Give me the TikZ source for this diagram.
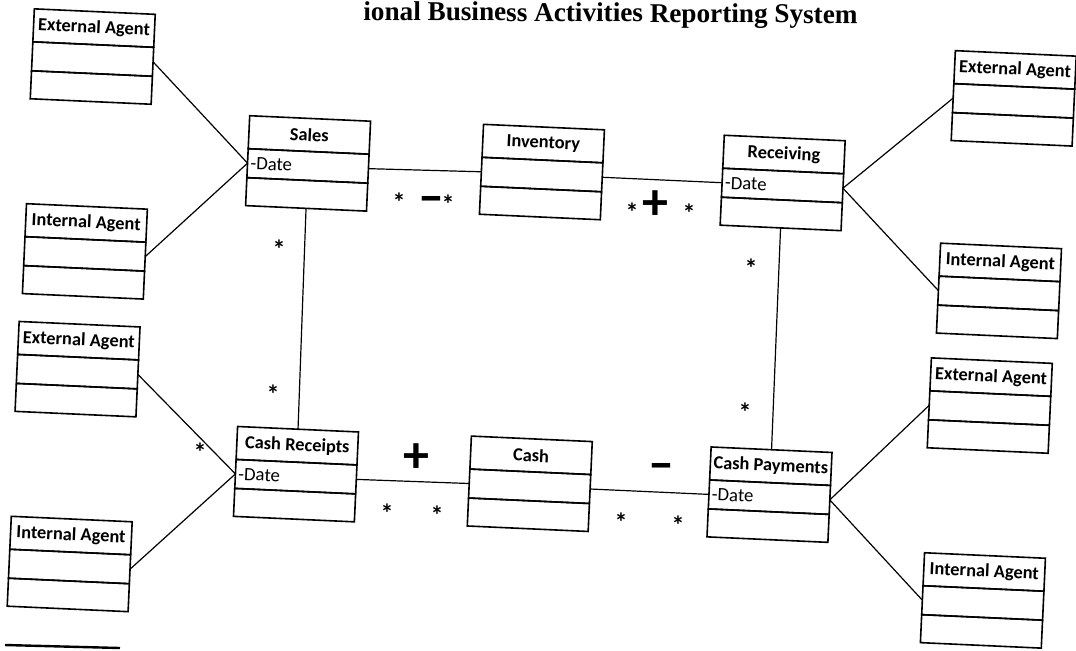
\documentclass[tikz,border=0pt]{standalone}
\usepackage{fontspec}
\setmainfont{Carlito}
\newfontfamily\titlefont{Liberation Serif}
\usetikzlibrary{positioning}

\tikzset{
  boxhead/.style={draw, line width=0.8pt, minimum width=60.5pt, minimum height=16.5pt,
    inner sep=0pt, outer sep=0pt, font=\fontsize{9.2}{10}\selectfont\bfseries},
  boxrow/.style={draw, line width=0.8pt, minimum width=60.5pt, minimum height=14.5pt,
    inner xsep=1.5pt, inner ysep=0pt, outer sep=0pt, text width=57.5pt, align=left,
    font=\fontsize{9.4}{10}\selectfont},
  link/.style={line width=0.6pt},
  mult/.style={inner sep=0pt, yshift=-2.5pt, font=\fontsize{13}{13}\selectfont\bfseries},
  sign/.style={inner sep=0pt, font=\fontsize{26}{26}\selectfont\bfseries},
}

% class box: name, position of the header, title, attribute
\newcommand\umlclass[4]{%
  \node[boxhead] (#1) at (#2) {#3};
  \node[boxrow, below=0pt of #1] (#1-a) {#4};
  \node[boxrow, below=0pt of #1-a, minimum height=14pt] (#1-b) {};
}

\begin{document}
\begin{tikzpicture}[x=0.5pt, y=0.5pt]
  \useasboundingbox (0,0) rectangle (1076,-650);
  \clip (0,0) rectangle (1076,-650);

  \node[anchor=base west, rotate=-0.4, inner sep=0pt,
    font=\titlefont\fontsize{13.6}{14}\selectfont\bfseries] (title) at (363,-20)
    {ional Business Activities Reporting System};

  \begin{scope}[rotate around={-2.6:(538,-325)}, transform shape]
    % agents
    \umlclass{extTL}{81,-48.5}{External Agent}{}
    \umlclass{intL1}{82,-243.5}{Internal Agent}{}
    \umlclass{extL2}{80,-361.5}{External Agent}{}
    \umlclass{intL3}{81,-556.5}{Internal Agent}{}
    \umlclass{extTR}{1003,-48.5}{External Agent}{}
    \umlclass{intR1}{997,-241.5}{Internal Agent}{}
    \umlclass{extR2}{993,-356.5}{External Agent}{}
    \umlclass{intR3}{995,-551.5}{Internal Agent}{}
    % events and resources
    \umlclass{sales}{301,-145.5}{Sales}{-Date}
    \umlclass{inventory}{535,-143.5}{Inventory}{}
    \umlclass{receiving}{776,-143.5}{Receiving}{-Date}
    \umlclass{cashrec}{303,-456.5}{Cash Receipts}{-Date}
    \umlclass{cash}{537,-455.5}{Cash}{}
    \umlclass{cashpay}{777,-455.5}{Cash Payments}{-Date}

    \draw[link] (extTL-a.east) -- (sales-a.west);
    \draw[link] (intL1-a.east) -- (sales-a.west);
    \draw[link] (extL2-a.east) -- (cashrec-a.west);
    \draw[link] (intL3-a.east) -- (cashrec-a.west);
    \draw[link] (receiving-a.east) -- (extTR-a.west);
    \draw[link] (receiving-a.east) -- (intR1-a.west);
    \draw[link] (cashpay-a.east) -- (extR2-a.west);
    \draw[link] (cashpay-a.east) -- (intR3-a.west);
    \draw[link] (sales-a.east) -- (inventory-a.west);
    \draw[link] (inventory-a.east) -- (receiving-a.west);
    \draw[link] (cashrec-a.east) -- (cash-a.west);
    \draw[link] (cash-a.east) -- (cashpay-a.west);
    \draw[link] (sales-b.south) -- (cashrec.north);
    \draw[link] (receiving-b.south) -- (cashpay.north);
  \end{scope}

  % multiplicities
  \node[mult] (m1) at (399,-197) {*};
  \node[mult] (m2) at (448,-199) {*};
  \node[mult] (m3) at (632,-207) {*};
  \node[mult] (m4) at (689,-208) {*};
  \node[mult] (m5) at (279,-244) {*};
  \node[mult] (m6) at (273,-389) {*};
  \node[mult] (m7) at (751,-263) {*};
  \node[mult] (m8) at (745,-407) {*};
  \node[mult] (m9) at (200,-447) {*};
  \node[mult] (m10) at (387,-508) {*};
  \node[mult] (m11) at (437,-510) {*};
  \node[mult] (m12) at (621,-517) {*};
  \node[mult] (m13) at (678,-520) {*};

  % signs
  \node[sign] (minus1) at (431,-205) {\textendash};
  \node[sign] (plus1) at (655,-205) {+};
  \node[sign] (plus2) at (416,-458) {+};
  \node[sign] (minus2) at (661,-472) {\textendash};

  \draw[line width=1.2pt] (5,-645) -- (120,-648);
\end{tikzpicture}
\end{document}
